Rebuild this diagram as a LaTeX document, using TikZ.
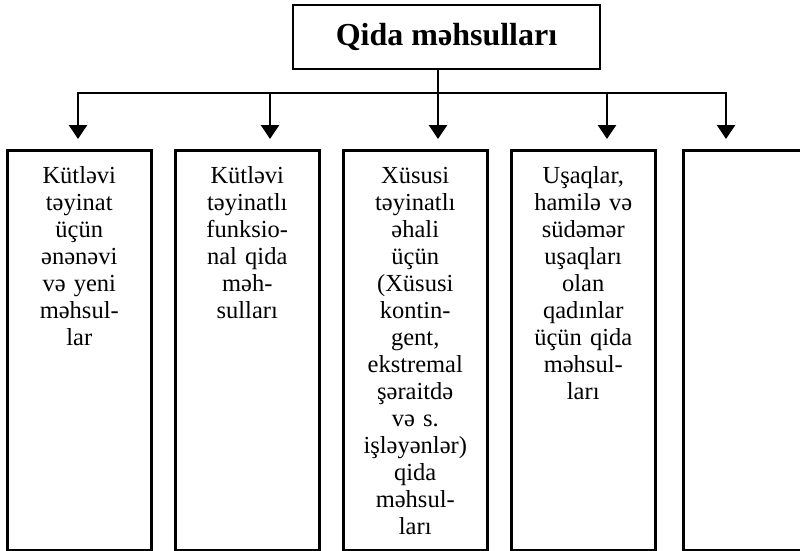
\documentclass[tikz,border=0pt]{standalone}
\usepackage{fontspec}
\setmainfont{Liberation Serif}
\usetikzlibrary{arrows.meta}
\begin{document}
\begin{tikzpicture}[x=1pt,y=-1pt,
  line width=2.4pt,
  boxstyle/.style={draw, line width=2.5pt, anchor=north west, minimum width=144pt, minimum height=400pt, inner sep=0pt},
  boxtext/.style={anchor=north, text width=142pt, align=center, inner sep=0pt, font=\fontsize{24.5}{27}\selectfont},
  conn/.style={line width=2.6pt},
  arr/.style={line width=2.6pt, -{Triangle[length=14pt,width=18pt]}, shorten >=10pt}
]
\useasboundingbox (0,0) rectangle (800,551);
\begin{scope}
\clip (0,0) rectangle (800,551);
\node[draw, line width=2.5pt, minimum width=307pt, minimum height=64pt, inner sep=0pt,
  font=\fontsize{32}{36}\selectfont\bfseries] (title) at (446.5,37) {Qida məhsulları};

\node[boxstyle] (b1) at (6,149) {};
\node[boxstyle] (b2) at (174,149) {};
\node[boxstyle] (b3) at (342,149) {};
\node[boxstyle] (b4) at (510,149) {};
\node[boxstyle] (b5) at (682,149) {};

\node[boxtext] (t1) at ([yshift=-14pt]b1.north) {\strut Kütləvi\\ təyinat\\ üçün\\ ənənəvi\\ və yeni\\ məhsul-\\ lar};
\node[boxtext] (t2) at ([yshift=-14pt]b2.north) {\strut Kütləvi\\ təyinatlı\\ funksio-\\ nal qida\\ məh-\\ sulları};
\node[boxtext] (t3) at ([yshift=-14pt]b3.north) {\strut Xüsusi\\ təyinatlı\\ əhali\\ üçün\\ (Xüsusi\\ kontin-\\ gent,\\ ekstremal\\ şəraitdə\\ və s.\\ işləyənlər)\\ qida\\ məhsul-\\ ları};
\node[boxtext] (t4) at ([yshift=-14pt]b4.north) {\strut Uşaqlar,\\ hamilə və\\ südəmər\\ uşaqları\\ olan\\ qadınlar\\ üçün qida\\ məhsul-\\ ları};

\coordinate (j1) at (78,93);
\coordinate (j2) at (270,93);
\coordinate (j3) at (438,93);
\coordinate (j4) at (607,93);
\coordinate (j5) at (726,93);

\draw[conn] (title.south -| j3) -- (j3);
\draw[conn] ([xshift=-1.3pt]j1) -- ([xshift=1.3pt]j5);
\draw[arr] ([yshift=1.3pt]j1) -- (j1 |- b1.north);
\draw[arr] ([yshift=1.3pt]j2) -- (j2 |- b2.north);
\draw[arr] ([yshift=1.3pt]j3) -- (j3 |- b3.north);
\draw[arr] ([yshift=1.3pt]j4) -- (j4 |- b4.north);
\draw[arr] ([yshift=1.3pt]j5) -- (j5 |- b5.north);
\end{scope}
\end{tikzpicture}
\end{document}
